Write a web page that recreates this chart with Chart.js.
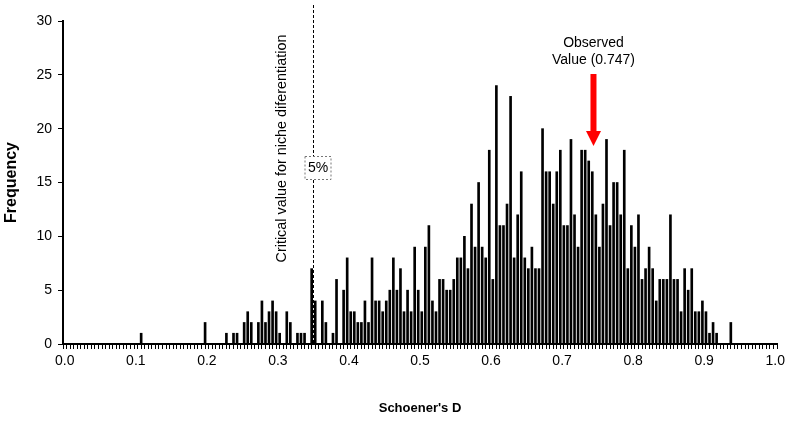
<!DOCTYPE html>
<html>
<head>
<meta charset="utf-8">
<script src="https://cdn.jsdelivr.net/npm/chart.js@4.4.1/dist/chart.umd.min.js"></script>
<style>
  html, body { margin: 0; padding: 0; background: #fff; }
  #wrap { width: 794px; height: 424px; position: relative; }
</style>
</head>
<body>
<div id="wrap"><canvas id="c" width="794" height="424"></canvas></div>
<script>
// Histogram of Schoener's D (bin width 0.005, bins start at 0.000)
const BIN_WIDTH = 0.005;
const counts = [
  0,0,0,0,0,0,0,0,0,0,0,0,0,0,0,0,0,0,0,0,          // 0.000 - 0.095
  0,1,0,0,0,0,0,0,0,0,0,0,0,0,0,0,0,0,0,2,          // 0.100 - 0.195
  0,0,0,0,0,1,0,1,1,0,2,3,2,0,2,4,2,3,4,3,          // 0.200 - 0.295
  1,0,3,2,0,1,1,1,0,7,4,0,4,2,0,1,6,0,5,8,          // 0.300 - 0.395
  3,3,2,2,4,2,8,4,4,3,4,5,8,5,7,3,5,3,9,5,          // 0.400 - 0.495
  3,9,11,4,3,6,6,5,5,6,8,8,10,7,13,9,15,9,8,18,     // 0.500 - 0.595
  6,24,11,11,13,23,8,12,16,8,7,9,7,7,20,16,16,13,16,18, // 0.600 - 0.695
  11,11,19,12,9,18,18,17,16,12,9,13,19,11,15,15,12,18,7,11, // 0.700 - 0.795
  9,12,6,7,9,7,4,6,6,6,12,6,6,3,7,5,7,3,3,4,        // 0.800 - 0.895
  3,1,2,1,0,0,0,2,0,0,0,0,0,0,0,0,0,0,0,0           // 0.900 - 0.995
];
const binStarts = counts.map((_, i) => +(i * BIN_WIDTH).toFixed(3));
const yTicks = [0, 5, 10, 15, 20, 25, 30];
const xLabels = ['0.0','0.1','0.2','0.3','0.4','0.5','0.6','0.7','0.8','0.9','1.0'];
const CRITICAL = 0.35;
const OBSERVED = 0.747;

const FONT = "'Liberation Sans', Arial, sans-serif";

const annotations = {
  id: 'annotations',
  afterDatasetsDraw(chart) {
    const { ctx, scales } = chart;
    const xs = scales.x, ys = scales.y;
    ctx.save();
    // critical dashed line
    const cx = Math.round(xs.getPixelForValue(CRITICAL)) + 0.5;
    ctx.strokeStyle = '#000';
    ctx.lineWidth = 1;
    ctx.setLineDash([3, 2]);
    ctx.beginPath();
    ctx.moveTo(cx, 5);
    ctx.lineTo(cx, ys.getPixelForValue(0));
    ctx.stroke();
    ctx.setLineDash([]);

    // vertical label
    ctx.save();
    ctx.translate(cx - 31, 148.5);
    ctx.rotate(-Math.PI / 2);
    ctx.fillStyle = '#000';
    ctx.font = '14.4px ' + FONT;
    ctx.textAlign = 'center';
    ctx.textBaseline = 'middle';
    ctx.fillText('Critical value for niche diferentiation', 0, 0);
    ctx.restore();

    // 5% box
    const bx = cx - 9, by = 156, bw = 26, bh = 23;
    ctx.fillStyle = '#fff';
    ctx.fillRect(bx, by, bw, bh);
    ctx.strokeStyle = '#777';
    ctx.setLineDash([2, 2]);
    ctx.strokeRect(bx + 0.5, by + 0.5, bw, bh);
    ctx.setLineDash([]);
    ctx.fillStyle = '#000';
    ctx.font = '14px ' + FONT;
    ctx.textAlign = 'center';
    ctx.textBaseline = 'middle';
    ctx.fillText('5%', bx + bw / 2 + 0.5, by + bh / 2 + 1);

    // observed arrow
    const ox = xs.getPixelForValue(OBSERVED) - 2;
    ctx.fillStyle = '#ff0000';
    ctx.fillRect(ox - 3, 74, 6, 59);
    ctx.beginPath();
    ctx.moveTo(ox - 7.5, 131);
    ctx.lineTo(ox + 7.5, 131);
    ctx.lineTo(ox, 146);
    ctx.closePath();
    ctx.fill();

    ctx.fillStyle = '#000';
    ctx.font = '14px ' + FONT;
    ctx.textAlign = 'center';
    ctx.textBaseline = 'middle';
    ctx.fillText('Observed', ox, 43);
    ctx.fillText('Value (0.747)', ox, 60);
    ctx.restore();
  }
};

new Chart(document.getElementById('c'), {
  type: 'bar',
  data: {
    datasets: [{
      data: binStarts.map((b, i) => ({ x: b + BIN_WIDTH / 2, y: counts[i] })),
      backgroundColor: '#000',
      borderWidth: 0,
      barThickness: 2,
      grouped: false
    }]
  },
  options: {
    responsive: false,
    animation: false,
    events: [],
    layout: { padding: { top: 21, right: 17, left: 0, bottom: 0 } },
    plugins: { legend: { display: false }, tooltip: { enabled: false } },
    scales: {
      x: {
        type: 'linear',
        min: 0, max: 1,
        afterBuildTicks(scale) {
          scale.ticks = counts.concat([0]).map((_, i) => ({ value: i * BIN_WIDTH }));
        },
        afterFit(scale) { scale.height = 80; },
        ticks: {
          autoSkip: false, maxRotation: 0, minRotation: 0,
          padding: 4,
          color: '#000',
          font: { family: FONT, size: 14 },
          callback(v, i) { return i % 20 === 0 ? xLabels[i / 20] : ''; }
        },
        grid: { drawOnChartArea: false, drawTicks: true, tickLength: 5, color: '#000', lineWidth: 1 },
        border: { display: true, color: '#000', width: 2 },
        title: {
          display: true, text: "Schoener's D", color: '#000',
          font: { family: FONT, size: 13, weight: 'bold' },
          padding: { top: 0, bottom: 8 }
        }
      },
      y: {
        min: 0, max: 30,
        afterBuildTicks(scale) { scale.ticks = yTicks.map(v => ({ value: v })); },
        afterFit(scale) { scale.width = 63; },
        ticks: {
          padding: 6, color: '#000',
          font: { family: FONT, size: 14 }
        },
        grid: { drawOnChartArea: false, drawTicks: true, tickLength: 5, color: '#000', lineWidth: 1 },
        border: { display: true, color: '#000', width: 2 },
        title: {
          display: true, text: 'Frequency', color: '#000',
          font: { family: FONT, size: 16, weight: 'bold' },
          padding: { top: 2, bottom: 0 }
        }
      }
    }
  },
  plugins: [annotations]
});
</script>
</body>
</html>
